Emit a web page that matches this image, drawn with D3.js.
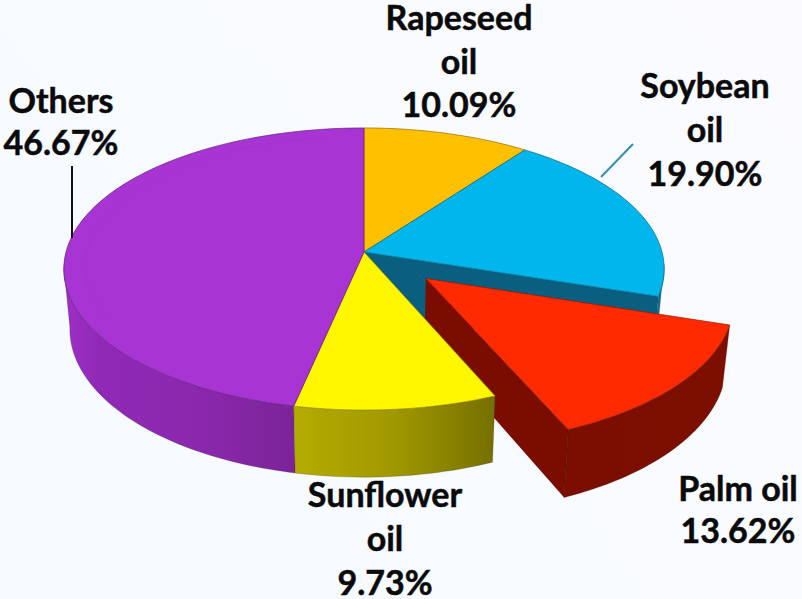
<!DOCTYPE html>
<html><head><meta charset="utf-8">
<script src="https://cdn.jsdelivr.net/npm/d3@7"></script>
<style>html,body{margin:0;padding:0;background:#f8fbff;overflow:hidden}svg{display:block}</style>
</head><body><svg id="c" width="802" height="599"></svg>
<script>
// Data
const categories = ["Rapeseed oil","Soybean oil","Palm oil","Sunflower oil","Others"];
const shares = [10.09,19.90,13.62,9.73,46.67];
const valueLabels = ["10.09%","19.90%","13.62%","9.73%","46.67%"];
const nameLines = [["Rapeseed","oil"],["Soybean","oil"],["Palm oil"],["Sunflower","oil"],["Others"]];
const topColors = ["#ffc000","#00b6ec","#ff2a00","#fff700","#a934d4"];
const exploded = [0,0,0.275,0,0];

// Layout
const W=802,H=599, cx=364, cy=252, B=298, A=139, k=0.1206;
const labelPos = [[459,30],[705,98],[738,501],[385,507],[61,113]];
const lineHs = [43.5,44,42,44,42];

const svg=d3.select("#c");
const defs=svg.append("defs");
function grad(id,stops,x1,x2,y1=0,y2=0){
  const g=defs.append("linearGradient").attr("id",id).attr("gradientUnits","userSpaceOnUse")
    .attr("x1",x1).attr("x2",x2).attr("y1",y1).attr("y2",y2);
  stops.forEach(s=>g.append("stop").attr("offset",s[0]).attr("stop-color",s[1]));
}
grad("bg",[[0,"#f5fbff"],[0.5,"#f8fbff"],[1,"#fbfbff"]],0,802,599,0);
grad("wallOthers",[[0,"#a02fc8"],[0.15,"#9029b6"],[0.6,"#8a28ad"],[1,"#7c2398"]],64,295);
grad("wallSun",[[0,"#b4ac00"],[0.5,"#a09800"],[1,"#757000"]],295,494);
grad("wallPalm",[[0,"#7a0d00"],[1,"#7c0f00"]],420,730);

svg.append("rect").attr("width",W).attr("height",H).attr("fill","url(#bg)");

// projective map of the disc plane: unit-disc coordinates to screen
const project=(u,v)=>{const d=1+k*v;return [cx+B*u/d, cy-A*v/d];};
// lower face: small shrink plus a depth that grows towards the viewer
const drop=p=>[cx+(p[0]-cx)*0.98, p[1]+60+(p[1]-268)*0.05];

const pie=d3.pie().sort(null)(shares);
const slices=pie.map((s,i)=>{
  const mid=(s.startAngle+s.endAngle)/2, e=exploded[i];
  const ox=e*Math.sin(mid), oy=e*Math.cos(mid);
  const at=a=>project(ox+Math.sin(a),oy+Math.cos(a));
  const n=Math.max(12,Math.round((s.endAngle-s.startAngle)*40));
  const rim=d3.range(n+1).map(j=>at(s.startAngle+(s.endAngle-s.startAngle)*j/n));
  return {i,s,apex:project(ox,oy),rim,at};
});
const line=d3.line();
const closed=pts=>line(pts)+"Z";
const g=svg.append("g");

function drawTop(sl){
  g.append("path").attr("d",closed([sl.apex,...sl.rim])).attr("fill",topColors[sl.i])
    .attr("stroke",d3.color(topColors[sl.i]).darker(1.6)).attr("stroke-width",0.7).attr("stroke-linejoin","round");
}
function outerWall(sl,fill,rim){
  rim=rim||sl.rim;
  g.append("path").attr("d",closed([...rim,...rim.map(drop).reverse()])).attr("fill",fill)
    .attr("stroke","rgba(30,30,30,0.35)").attr("stroke-width",0.6);
}
const [rape,soy,palm,sun,oth]=slices;

// back slices
drawTop(rape);
// soybean: cut face seen through the gap, then rim wall and top
const soyEnd=soy.rim[soy.rim.length-1];
g.append("path").attr("d",closed([soy.apex,soyEnd,drop(soyEnd),drop(soy.apex)])).attr("fill","#0a5f80");
outerWall(soy,"#0a6f94",soy.rim.slice(-10));
drawTop(soy);
// exploded palm slice
const palmEnd=palm.rim[palm.rim.length-1];
g.append("path").attr("d",closed([palm.apex,palmEnd,drop(palmEnd),drop(palm.apex)])).attr("fill","#7a0d00");
outerWall(palm,"url(#wallPalm)");
drawTop(palm);
g.append("path").attr("d",line([palmEnd,drop(palmEnd)])).attr("stroke","#5a0800").attr("stroke-width",0.6).attr("fill","none");
// front slices
const cut=oth.rim.findIndex(q=>q[1]<268);
outerWall(oth,"url(#wallOthers)",oth.rim.slice(0,cut+1));
outerWall(sun,"url(#wallSun)");
drawTop(sun);
drawTop(oth);
// faint bevel on the purple face
const bev=d3.range(0,41).map(j=>{const a=oth.s.startAngle+(oth.s.endAngle-oth.s.startAngle)*(0.3+0.65*j/40);return project(0.93*Math.sin(a),0.93*Math.cos(a));});
g.append("path").attr("d",line(bev)).attr("fill","none").attr("stroke","#8a28ad").attr("stroke-width",0.8).attr("stroke-opacity",0.2);

// leader lines
const leaders=[{i:1,from:[601,177],to:[633,144],c:"#2f8fb0"},{i:4,from:[72,238],to:[72,166],c:"#111"}];
leaders.forEach(l=>g.append("path").attr("d",line([l.from,l.to])).attr("stroke",l.c).attr("stroke-width",2).attr("fill","none"));

// labels
const t=svg.append("g").attr("font-family","Lato, 'Open Sans', sans-serif").attr("font-weight",700)
  .attr("font-size",34).attr("fill","#0a0a0a").attr("stroke","#0a0a0a").attr("stroke-width",0.5).attr("text-anchor","middle");
categories.forEach((c,i)=>{
  const ls=[...nameLines[i],valueLabels[i]];
  const txt=t.append("text").attr("data-cat",c);
  ls.forEach((s,j)=>txt.append("tspan").attr("x",labelPos[i][0]).attr("y",labelPos[i][1]+j*lineHs[i]).text(s));
});
</script></body></html>
